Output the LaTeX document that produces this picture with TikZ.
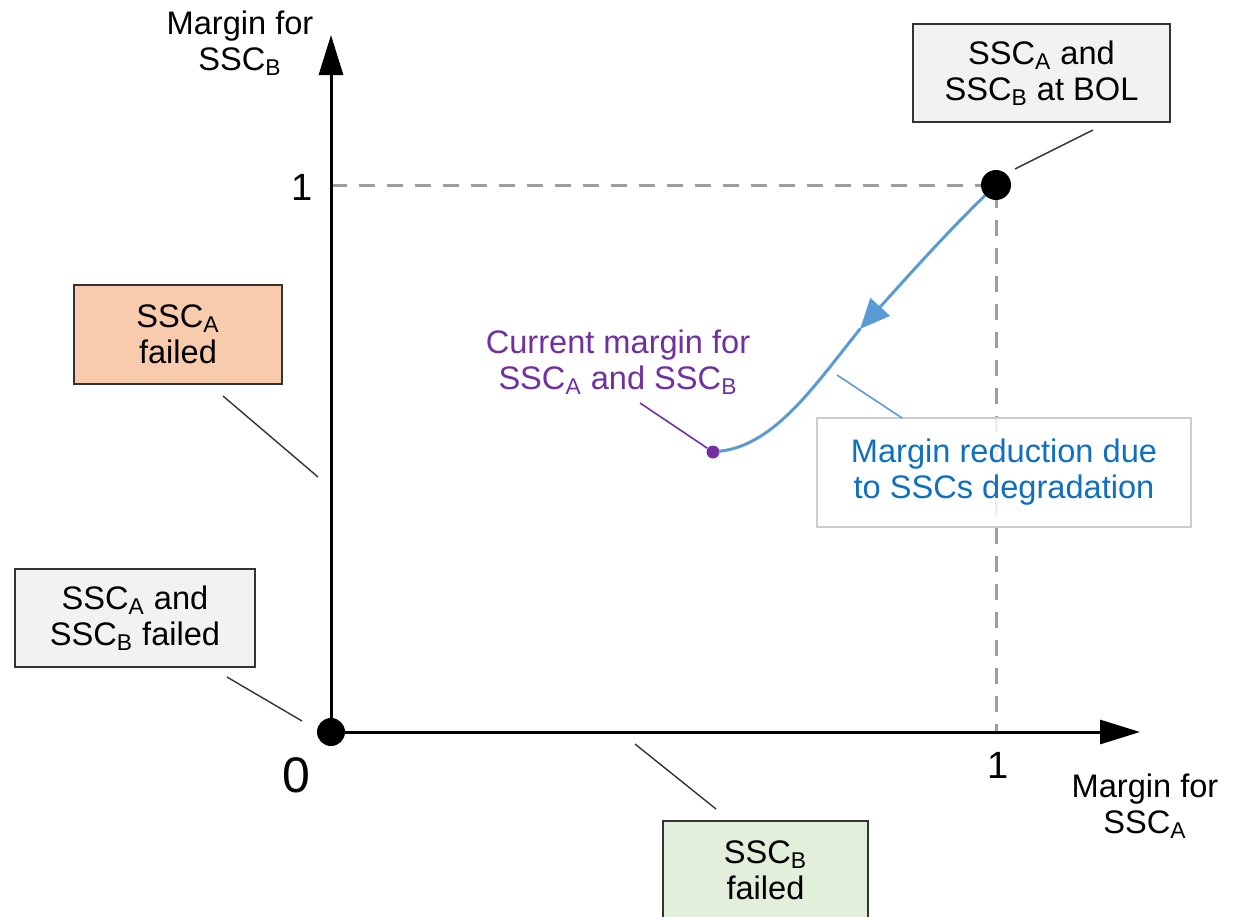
\documentclass[tikz,border=0pt]{standalone}
\usepackage{fontspec}
\setmainfont{Liberation Sans}
\usetikzlibrary{arrows.meta}
\definecolor{guidegray}{HTML}{9E9E9E}
\definecolor{boxgray}{HTML}{F2F2F2}
\definecolor{boxborder}{HTML}{333333}
\definecolor{orangefill}{HTML}{F8CBAD}
\definecolor{greenfill}{HTML}{E2EFDA}
\definecolor{curveblue}{HTML}{5B9BD5}
\definecolor{textblue}{HTML}{0F70C0}
\definecolor{purp}{HTML}{7030A0}
\definecolor{lightborder}{HTML}{CCCCCC}
\tikzset{
  lbl/.style={font=\fontsize{16.3}{18}\selectfont, align=center, inner sep=0pt},
  box/.style={draw=boxborder, line width=0.75pt, font=\fontsize{16.3}{18}\selectfont, align=center, inner sep=0pt},
  axis/.style={line width=1.5pt, -{Triangle[length=20pt,width=12pt]}},
  guide/.style={guidegray, line width=1.5pt, dash pattern=on 8pt off 6pt},
  dot/.style={circle, fill=black, inner sep=0pt},
  leader/.style={boxborder, line width=0.7pt},
  curve/.style={curveblue, line width=1.5pt, line cap=round, line join=round},
}
\begin{document}
\begin{tikzpicture}[x=0.5pt,y=-0.5pt]
\useasboundingbox (0,0) rectangle (1241,916);
% guides
\coordinate (gy) at (331,185);
\coordinate (gx) at (996,732);
\coordinate (one) at (996,185);
\draw[guide] (gy) -- (one) -- (gx);
% axes
\coordinate (orig) at (331,732);
\coordinate (ytip) at (331,35);
\coordinate (xtip) at (1140,732);
\draw[axis] (orig) -- (ytip);
\draw[axis] (orig) -- (xtip);
% axis labels
\node[lbl] (ylab) at (240,43) {Margin for\\SSC\textsubscript{B}};
\node[lbl] (xlab) at (1145,806) {Margin for\\SSC\textsubscript{A}};
\node[font=\fontsize{19}{19}\selectfont, inner sep=0pt] (y1) at (302,187) {1};
\node[font=\fontsize{19}{19}\selectfont, inner sep=0pt] (x1) at (998,765) {1};
\node[font=\fontsize{25}{25}\selectfont, inner sep=0pt] (zero) at (296,775) {0};
% curve
\node[dot, fill=purp, minimum size=6.5pt] (C) at (713,452) {};
\coordinate (mid) at (860,329);
\draw[curve, -{Triangle[length=15pt,width=13pt]}] (one) .. controls (950,228) and (892,294) .. (mid);
\draw[curve] (mid) .. controls (815,385) and (775,445) .. (C);
% dots
\node[dot, minimum size=14pt] (O) at (orig) {};
\node[dot, minimum size=15pt] (P) at (one) {};
% boxes
\node[box, fill=boxgray, minimum width=128.5pt, minimum height=49pt] (bol) at (1041.5,73) {SSC\textsubscript{A} and\\SSC\textsubscript{B} at BOL};
\node[box, fill=orangefill, minimum width=104pt, minimum height=49.5pt] (afail) at (178,334.5) {SSC\textsubscript{A}\\failed};
\node[box, fill=boxgray, minimum width=120pt, minimum height=49pt] (abfail) at (135,618) {SSC\textsubscript{A} and\\SSC\textsubscript{B} failed};
\node[box, fill=greenfill, minimum width=102.5pt, minimum height=49.5pt] (bfail) at (765.5,870.5) {SSC\textsubscript{B}\\failed};
\node[box, draw=lightborder, fill=white, fill opacity=0.85, text opacity=1, text=textblue, minimum width=187pt, minimum height=54.5pt] (red) at (1004,472.5) {Margin reduction due\\to SSCs degradation};
\node[lbl, text=purp] (cur) at (618,362) {Current margin for\\SSC\textsubscript{A} and SSC\textsubscript{B}};
% leaders
\coordinate (l1a) at (1015,169); \coordinate (l1b) at (1093,130);
\draw[leader] (l1a) -- (l1b);
\coordinate (l2a) at (223,396); \coordinate (l2b) at (318,477);
\draw[leader] (l2a) -- (l2b);
\coordinate (l3a) at (227,677); \coordinate (l3b) at (302,721);
\draw[leader] (l3a) -- (l3b);
\coordinate (l4a) at (635,744); \coordinate (l4b) at (716,809);
\draw[leader] (l4a) -- (l4b);
\coordinate (l5a) at (837,375); \coordinate (l5b) at (902,418);
\draw[curveblue, line width=0.8pt] (l5a) -- (l5b);
\coordinate (l6a) at (640,403);
\draw[purp, line width=0.8pt] (l6a) -- (C);
\end{tikzpicture}
\end{document}
